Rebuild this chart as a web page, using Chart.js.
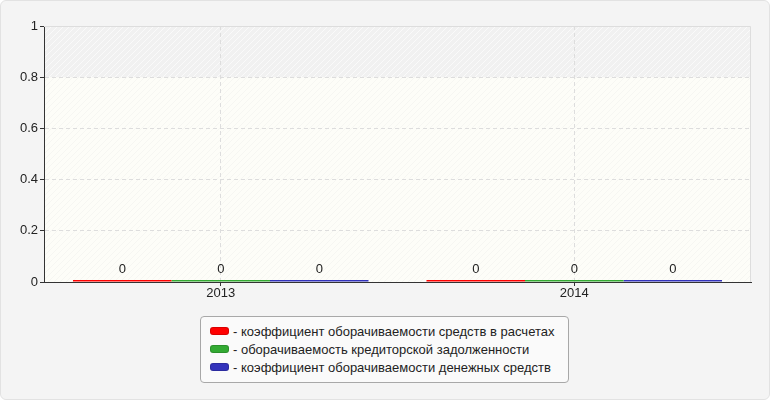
<!DOCTYPE html>
<html>
<head>
<meta charset="utf-8">
<script src="https://cdn.jsdelivr.net/npm/chart.js@4"></script>
<style>
  html, body { margin: 0; padding: 0; background: #fff; }
  #frame {
    position: relative; width: 770px; height: 400px; box-sizing: border-box;
    background: #f4f4f4; border: 1px solid #e2e2e2; border-radius: 6px; overflow: hidden;
  }
  #chartBox { position: absolute; left: -1px; top: -1px; width: 770px; height: 400px; }
  #legend {
    position: absolute; left: 199px; top: 315px; width: 369px; height: 67px; box-sizing: border-box;
    border: 1px solid #a8a8a8; border-radius: 4px; background: #fafafa;
    font: 13px "Liberation Sans", Arial, sans-serif; color: #222; padding: 6px 0 0 9px;
  }
  .item { height: 18px; line-height: 18px; white-space: nowrap; }
  .sw { display: inline-block; width: 17px; height: 6px; border-radius: 3px; margin-right: 4px; vertical-align: 1px; border: 1px solid rgba(0,0,0,0.15); }
</style>
</head>
<body>
<div id="frame">
  <div id="chartBox"><canvas id="chart"></canvas></div>
  <div id="legend"></div>
</div>
<script>
// данные
const years = ['2013', '2014'];
const seriesNames = [
  'коэффициент оборачиваемости средств в расчетах',
  'оборачиваемость кредиторской задолженности',
  'коэффициент оборачиваемости денежных средств'
];
const receivablesTurnover = [0, 0];
const payablesTurnover = [0, 0];
const cashTurnover = [0, 0];
const seriesColors = ['#ff0000', '#33aa33', '#3333bb'];
const yTicks = [0, 0.2, 0.4, 0.6, 0.8, 1];
const fontFamily = '"Liberation Sans", Arial, sans-serif';

// штриховка фона
function makeHatch(bg, line) {
  const c = document.createElement('canvas');
  c.width = 6; c.height = 6;
  const g = c.getContext('2d');
  g.fillStyle = bg; g.fillRect(0, 0, 6, 6);
  g.strokeStyle = line; g.lineWidth = 1;
  g.beginPath();
  g.moveTo(0, 6); g.lineTo(6, 0);
  g.moveTo(-3, 3); g.lineTo(3, -3);
  g.moveTo(3, 9); g.lineTo(9, 3);
  g.stroke();
  return g.createPattern(c, 'repeat');
}

const plotBackground = {
  id: 'plotBackground',
  beforeDraw(chart) {
    const {ctx, chartArea: a, scales: {y}} = chart;
    const y08 = y.getPixelForValue(0.8);
    ctx.save();
    ctx.fillStyle = makeHatch('#f1f1f1', '#fafafa');
    ctx.fillRect(a.left, a.top, a.right - a.left, y08 - a.top);
    ctx.fillStyle = makeHatch('#fdfdf8', '#f6f6f2');
    ctx.fillRect(a.left, y08, a.right - a.left, a.bottom - y08);
    ctx.restore();
  },
  afterDatasetsDraw(chart) {
    const {ctx, chartArea: a} = chart;
    ctx.save();
    ctx.strokeStyle = '#dddddd';
    ctx.lineWidth = 1;
    ctx.beginPath();
    ctx.moveTo(a.left, a.top + 0.5); ctx.lineTo(a.right - 0.5, a.top + 0.5); ctx.lineTo(a.right - 0.5, a.bottom);
    ctx.stroke();
    // подписи значений
    ctx.fillStyle = '#222';
    ctx.font = '13px ' + fontFamily;
    ctx.textAlign = 'center';
    ctx.textBaseline = 'middle';
    chart.data.datasets.forEach((ds, i) => {
      chart.getDatasetMeta(i).data.forEach((bar, j) => {
        ctx.fillText(String(ds.data[j]), bar.x, bar.y - 11);
      });
    });
    ctx.restore();
  }
};

const datasets = [receivablesTurnover, payablesTurnover, cashTurnover].map((d, i) => ({
  label: seriesNames[i],
  data: d,
  backgroundColor: seriesColors[i],
  borderWidth: 0,
  minBarLength: 2,
  categoryPercentage: 0.836,
  barPercentage: 1
}));

new Chart(document.getElementById('chart'), {
  type: 'bar',
  data: { labels: years, datasets: datasets },
  options: {
    responsive: true,
    maintainAspectRatio: false,
    animation: false,
    layout: { padding: { top: 26, right: 19, left: 0, bottom: 0 } },
    plugins: { legend: { display: false }, tooltip: { enabled: false } },
    scales: {
      x: {
        afterFit: s => { s.height = 118; },
        grid: { color: '#dddddd', tickColor: '#333', tickLength: 4, offset: false },
        border: { color: '#333', dash: [4, 3] },
        ticks: { color: '#222', font: { size: 13, family: fontFamily }, padding: 0 }
      },
      y: {
        min: 0, max: 1,
        afterFit: s => { s.width = 44; },
        afterBuildTicks: s => { s.ticks = yTicks.map(v => ({ value: v })); },
        grid: { color: '#dddddd', tickColor: '#333', tickLength: 4 },
        border: { color: '#333', dash: [4, 3] },
        ticks: { color: '#222', font: { size: 13, family: fontFamily }, padding: 2, callback: v => String(v) }
      }
    }
  },
  plugins: [plotBackground]
});

// легенда
const legend = document.getElementById('legend');
seriesNames.forEach((name, i) => {
  const row = document.createElement('div');
  row.className = 'item';
  row.innerHTML = '<span class="sw" style="background:' + seriesColors[i] + '"></span>- ' + name;
  legend.appendChild(row);
});
</script>
</body>
</html>
